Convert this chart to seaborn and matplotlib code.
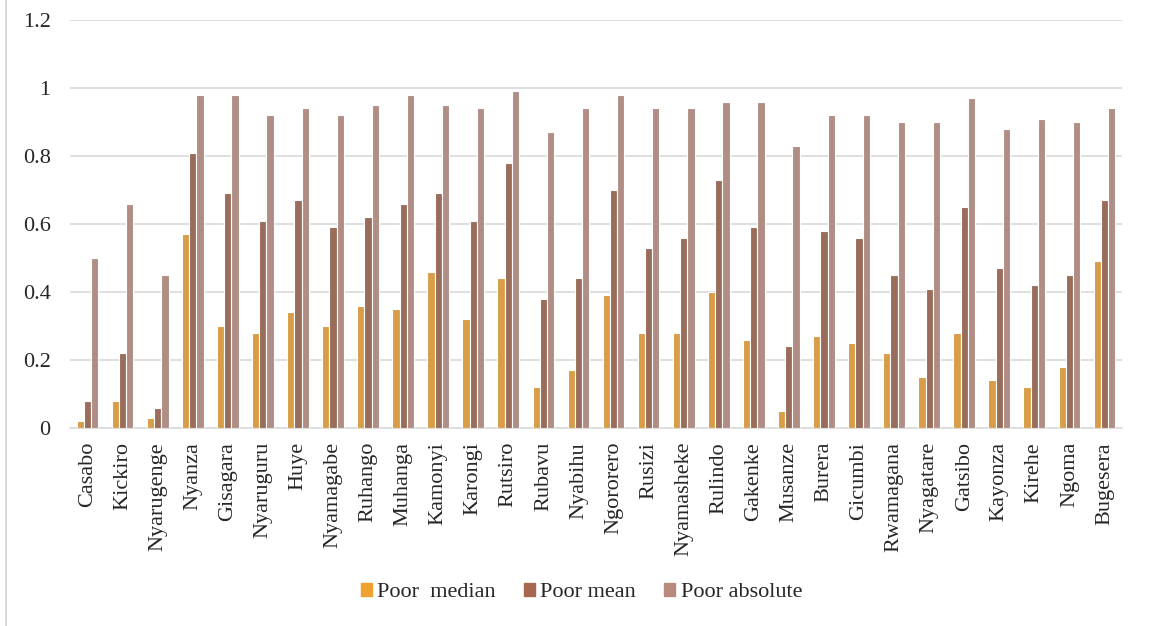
import matplotlib
matplotlib.use("Agg")
import matplotlib.pyplot as plt
import seaborn as sns
import pandas as pd
from matplotlib.lines import Line2D

districts = ["Casabo", "Kickiro", "Nyarugenge", "Nyanza", "Gisagara", "Nyaruguru",
             "Huye", "Nyamagabe", "Ruhango", "Muhanga", "Kamonyi", "Karongi",
             "Rutsiro", "Rubavu", "Nyabihu", "Ngororero", "Rusizi", "Nyamasheke",
             "Rulindo", "Gakenke", "Musanze", "Burera", "Gicumbi", "Rwamagana",
             "Nyagatare", "Gatsibo", "Kayonza", "Kirehe", "Ngoma", "Bugesera"]

poor_median = [0.02, 0.08, 0.03, 0.57, 0.30, 0.28, 0.34, 0.30, 0.36, 0.35,
               0.46, 0.32, 0.44, 0.12, 0.17, 0.39, 0.28, 0.28, 0.40, 0.26,
               0.05, 0.27, 0.25, 0.22, 0.15, 0.28, 0.14, 0.12, 0.18, 0.49]
poor_mean = [0.08, 0.22, 0.06, 0.81, 0.69, 0.61, 0.67, 0.59, 0.62, 0.66,
             0.69, 0.61, 0.78, 0.38, 0.44, 0.70, 0.53, 0.56, 0.73, 0.59,
             0.24, 0.58, 0.56, 0.45, 0.41, 0.65, 0.47, 0.42, 0.45, 0.67]
poor_absolute = [0.50, 0.66, 0.45, 0.98, 0.98, 0.92, 0.94, 0.92, 0.95, 0.98,
                 0.95, 0.94, 0.99, 0.87, 0.94, 0.98, 0.94, 0.94, 0.96, 0.96,
                 0.83, 0.92, 0.92, 0.90, 0.90, 0.97, 0.88, 0.91, 0.90, 0.94]

series_names = ["Poor  median", "Poor mean", "Poor absolute"]
series_colors = ["#F0A22E", "#A5674F", "#B88A7E"]
y_ticks = [0, 0.2, 0.4, 0.6, 0.8, 1, 1.2]
y_tick_labels = ["0", "0.2", "0.4", "0.6", "0.8", "1", "1.2"]

frames = []
for name, vals in zip(series_names, [poor_median, poor_mean, poor_absolute]):
    frames.append(pd.DataFrame({"District": districts, "Series": name, "Value": vals}))
df = pd.concat(frames, ignore_index=True)

sns.set_style("white")
plt.rcParams["font.family"] = ["Liberation Serif", "DejaVu Serif"]

fig = plt.figure(figsize=(11.49, 6.26), dpi=100)
ax = fig.add_axes([70 / 1149, 1 - 428 / 626, (1122 - 70) / 1149, (428 - 20) / 626])

sns.barplot(data=df, x="District", y="Value", hue="Series",
            palette=series_colors, hue_order=series_names, order=districts,
            width=0.62, edgecolor="white", linewidth=0.8, ax=ax, legend=False,
            errorbar=None, zorder=3)

ax.set_ylim(0, 1.2)
ax.set_xlim(-0.5, len(districts) - 0.5)
ax.set_yticks(y_ticks)
ax.set_yticklabels(y_tick_labels)
ax.set_xlabel("")
ax.set_ylabel("")
ax.grid(axis="y", color="#D9D9D9", linewidth=1.2, zorder=0)
ax.set_axisbelow(True)
for side in ["top", "right", "left"]:
    ax.spines[side].set_visible(False)
ax.spines["bottom"].set_color("#D9D9D9")
ax.spines["bottom"].set_linewidth(1.2)
ax.tick_params(axis="y", length=0, pad=14, labelsize=16)
ax.tick_params(axis="x", length=0, pad=10, labelsize=16, rotation=90)

handles = [plt.Rectangle((0, 0), 1, 1, color=c) for c in series_colors]
fig.legend(handles, series_names, loc="center", bbox_to_anchor=(0.506, 0.053),
           ncol=3, frameon=False, fontsize=16, handlelength=0.5, handleheight=0.5,
           handletextpad=0.25, columnspacing=1.25)

fig.add_artist(Line2D([6 / 1149, 6 / 1149], [0, 1], transform=fig.transFigure,
                      color="#D9D9D9", linewidth=1.5))

fig.savefig("out.png", dpi=100)
